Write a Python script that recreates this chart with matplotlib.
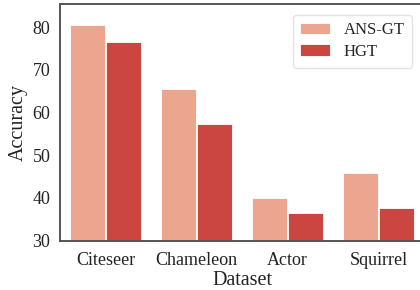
import matplotlib
matplotlib.use('Agg')
import matplotlib.pyplot as plt
import numpy as np
import seaborn as sns

datasets = ['Citeseer', 'Chameleon', 'Actor', 'Squirrel']
ans_gt = [80.4, 65.4, 40.1, 45.9]
hgt = [76.5, 57.2, 36.5, 37.7]

sns.set_theme(style='white')
plt.rcParams['font.family'] = ['Liberation Serif', 'DejaVu Serif']

fig = plt.figure(figsize=(4.2, 2.9), dpi=100)
ax = fig.add_axes([60/420, 49.3/290, 364/420, 236.7/290])

x = np.arange(len(datasets))
w = 0.39
ax.bar(x - 0.2, ans_gt, width=w, color='#eca68f', edgecolor='white', linewidth=0.6, label='ANS-GT')
ax.bar(x + 0.2, hgt, width=w, color='#cb4541', edgecolor='white', linewidth=0.6, label='HGT')

ax.set_xlim(-0.5, 3.5)
ax.set_ylim(30, 85.4)
ax.set_yticks([30, 40, 50, 60, 70, 80])
ax.set_xticks(x)
ax.set_xticklabels(datasets)
ax.tick_params(axis='both', labelsize=13, colors='#222222', length=0)
ax.tick_params(axis='y', pad=7)
ax.tick_params(axis='x', pad=8)
ax.set_xlabel('Dataset', fontsize=14.5, color='#222222', labelpad=1.5)
ax.set_ylabel('Accuracy', fontsize=14.5, color='#222222', labelpad=3)

for s in ax.spines.values():
    s.set_color('#555555')
    s.set_linewidth(1.4)

leg = ax.legend(loc='upper right', fontsize=12, frameon=True, bbox_to_anchor=(0.99, 0.99),
                handlelength=1.8, handletextpad=0.8, borderpad=0.45, labelspacing=0.35)
leg.get_frame().set_edgecolor('#dddddd')

fig.savefig('out.png', dpi=100)
